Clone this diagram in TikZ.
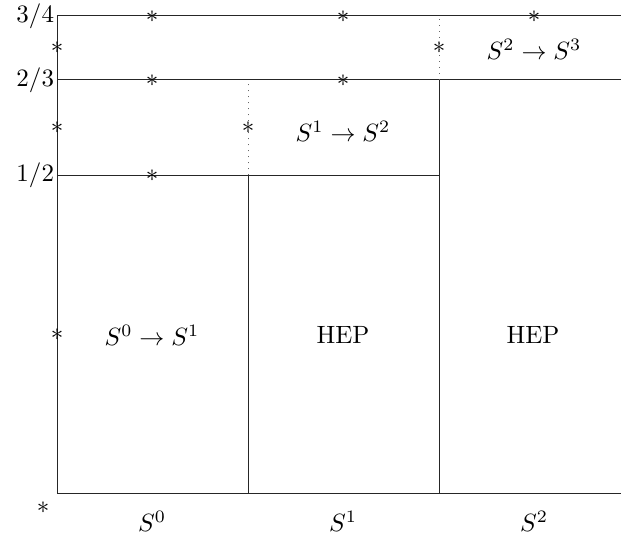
\documentclass[tikz,border=0pt]{standalone}
\usepackage{amsmath,amssymb}
\usepackage{tikz}
\usetikzlibrary{positioning}
\tikzset{
  grid line/.style={line width=0.4pt,black!85},
  split line/.style={dotted,line width=0.4pt,black!60},
  starpt/.style={inner sep=0pt,outer sep=0pt},
  ylab/.style={anchor=east,inner sep=1pt},
}
\newcommand{\stt}{$\ast$}
\begin{document}
\begin{tikzpicture}[x=0.4pt,y=-0.4pt]
  \useasboundingbox (0,0) rectangle (621,537);
  % corners of the grid
  \coordinate (o) at (57,494);
  \coordinate (b1) at (248,494);
  \coordinate (b2) at (439,494);
  \coordinate (b3) at (621,494);
  \coordinate (h1l) at (57,175.5);
  \coordinate (h1m) at (248,175.5);
  \coordinate (h1r) at (439,175.5);
  \coordinate (h2l) at (57,80);
  \coordinate (h2m) at (248,80);
  \coordinate (h2r) at (439,80);
  \coordinate (h2e) at (621,80);
  \coordinate (h3l) at (57,16);
  \coordinate (h3r) at (439,16);
  \coordinate (h3e) at (621,16);
  % axes and levels
  \draw[grid line] (h3l) -- (o) -- (b3);
  \draw[grid line] (h3l) -- (h3e);
  \draw[grid line] (h2l) -- (h2e);
  \draw[grid line] (h1l) -- (h1r);
  \draw[grid line] (b1) -- (h1m);
  \draw[grid line] (b2) -- (h2r);
  \draw[split line] (h1m) -- (h2m);
  \draw[split line] (h2r) -- (h3r);
  % level labels
  \node[ylab] (l34) at (h3l) {$3/4$};
  \node[ylab] (l23) at (h2l) {$2/3$};
  \node[ylab] (l12) at (h1l) {$1/2$};
  % column labels
  \node (c0) at (152,521) {$S^0$};
  \node (c1) at (343,521) {$S^1$};
  \node (c2) at (534,521) {$S^2$};
  % regions
  \node (r01) at (152,335) {$S^0 \rightarrow S^1$};
  \node (hep1) at (343,335) {HEP};
  \node (hep2) at (533,335) {HEP};
  \node (r12) at (343,131) {$S^1 \rightarrow S^2$};
  \node (r23) at (534,49) {$S^2 \rightarrow S^3$};
  % sample points
  \node[starpt] (p0) at (43,508) {\stt};
  \node[starpt] (p1) at (57,335) {\stt};
  \node[starpt] (p2) at (57,128) {\stt};
  \node[starpt] (p3) at (57,48) {\stt};
  \node[starpt] (p4) at (152,176) {\stt};
  \node[starpt] (p5) at (152,81) {\stt};
  \node[starpt] (p6) at (152,17) {\stt};
  \node[starpt] (p7) at (248,128) {\stt};
  \node[starpt] (p8) at (343,81) {\stt};
  \node[starpt] (p9) at (343,17) {\stt};
  \node[starpt] (p10) at (439,48) {\stt};
  \node[starpt] (p11) at (534,17) {\stt};
\end{tikzpicture}
\end{document}
